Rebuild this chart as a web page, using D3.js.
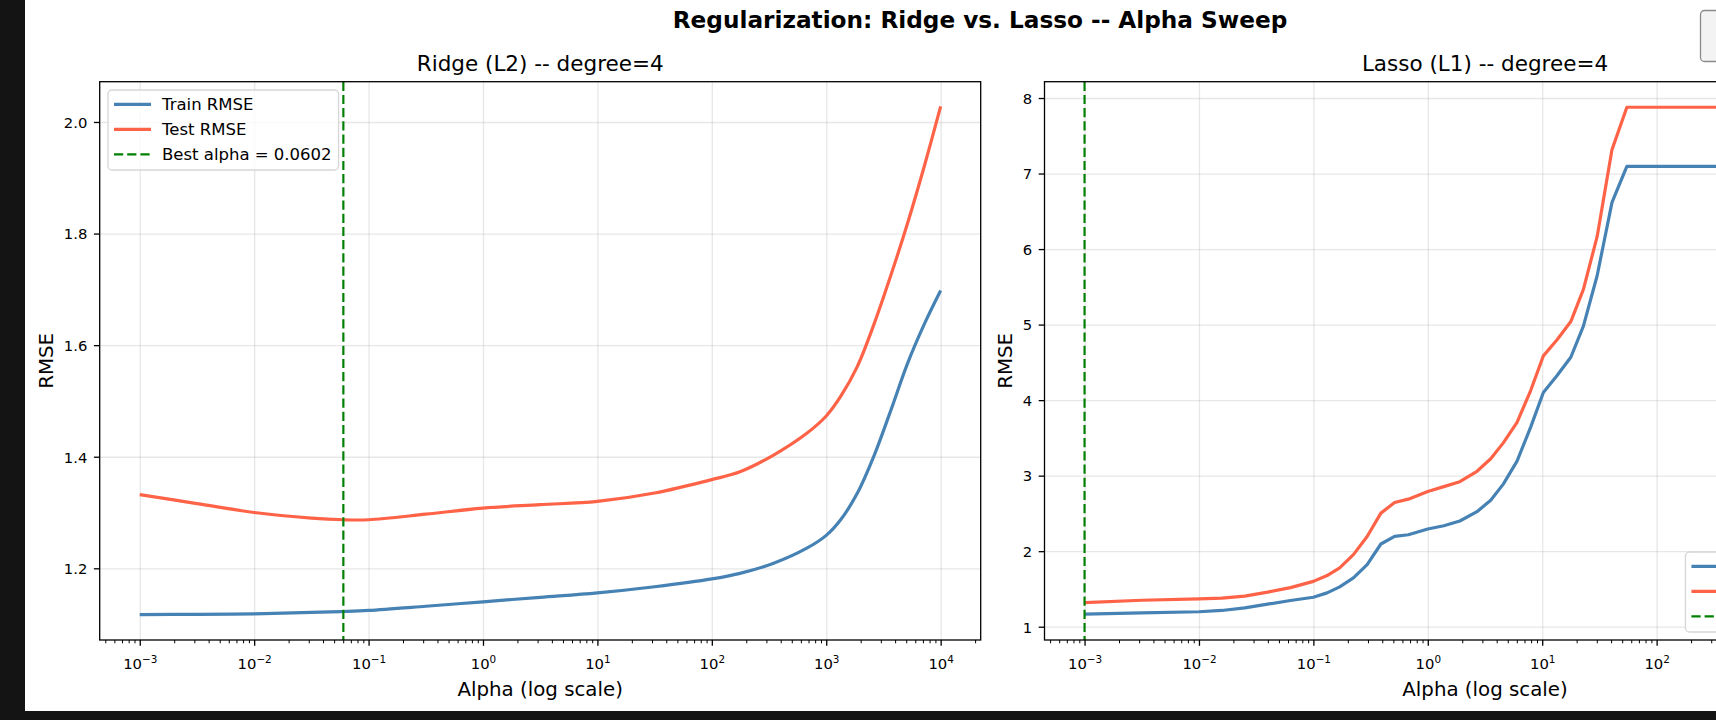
<!DOCTYPE html>
<meta charset='utf-8'>
<style>
  body { margin:0; background:#141414; }
  svg { display:block; font-family:'DejaVu Sans', sans-serif; }
  .grid line { stroke:#b0b0b0; stroke-opacity:.3; stroke-width:1.3px; }
  .grid .domain { display:none; }
  .axis .domain { display:none; }
  .axis line { stroke:#000; stroke-width:1.3px; }
  .axis text { fill:#000; font-size:14.8px; font-family:'DejaVu Sans', sans-serif; }
  .minor line { stroke-width:1px; }
  .spine { fill:none; stroke:#000; stroke-width:1.3px; }
</style>
<body>
<script src='https://cdn.jsdelivr.net/npm/d3@7'></script>
<script>
  // values ----------------------------------------------------------------
  var ridgeLogAlpha = [-3, -2.5, -2, -1.5, -1.22, -1, -0.5, 0, 0.5, 1, 1.5, 2, 2.246, 2.54, 2.83, 3, 3.126, 3.27, 3.42, 3.566, 3.71, 3.86, 4];
  var ridgeTrain = [1.117, 1.1175, 1.1185, 1.121, 1.1226, 1.1245, 1.132, 1.140, 1.148, 1.156, 1.167, 1.181, 1.191, 1.209, 1.236, 1.259, 1.287, 1.334, 1.403, 1.484, 1.567, 1.639, 1.698];
  var ridgeTest = [1.332, 1.316, 1.300, 1.290, 1.287, 1.287, 1.297, 1.308, 1.314, 1.320, 1.335, 1.359, 1.373, 1.403, 1.442, 1.473, 1.508, 1.561, 1.639, 1.726, 1.818, 1.923, 2.028];

  var lassoLogAlpha = [-3, -2.5, -2, -1.8, -1.6, -1.4, -1.2, -1, -0.88, -0.77, -0.65, -0.53, -0.41, -0.29, -0.17, 0, 0.14, 0.28, 0.43, 0.55, 0.66, 0.78, 0.9, 1.01, 1.13, 1.25, 1.36, 1.48, 1.61, 1.74, 4];
  var lassoTrain = [1.166, 1.184, 1.198, 1.215, 1.25, 1.298, 1.347, 1.39, 1.448, 1.528, 1.646, 1.822, 2.095, 2.195, 2.218, 2.293, 2.336, 2.40, 2.523, 2.675, 2.888, 3.192, 3.646, 4.10, 4.325, 4.568, 4.98, 5.647, 6.618, 7.096, 7.096];
  var lassoTest = [1.32, 1.35, 1.369, 1.378, 1.405, 1.458, 1.518, 1.60, 1.677, 1.778, 1.954, 2.195, 2.504, 2.644, 2.689, 2.79, 2.855, 2.92, 3.058, 3.223, 3.434, 3.706, 4.13, 4.586, 4.80, 5.04, 5.466, 6.164, 7.317, 7.878, 7.878];

  var ridgeBestAlpha = 0.0602;
  var lassoBestAlpha = 0.001;

  var xTickExps = [-3, -2, -1, 0, 1, 2, 3, 4];
  var ridgeYTicks = [1.2, 1.4, 1.6, 1.8, 2.0];
  var lassoYTicks = [1, 2, 3, 4, 5, 6, 7, 8];
  var seriesNames = ['Train RMSE', 'Test RMSE'];
  var seriesColors = ['#4682b4', '#ff6347'];

  // layout -------------------------------------------------------------------
  var width = 1716;
  var height = 720;
  var axTop = 81.7, axBottom = 640, axWidth = 881;

  var svg = d3.select('body').append('svg')
    .attr('width', width)
    .attr('height', height);

  svg.append('rect')
    .attr('x', 25).attr('y', 0)
    .attr('width', width - 25).attr('height', 711)
    .attr('fill', '#fff');

  // button edge peeking in at the top right
  svg.append('rect')
    .attr('x', 1700.5).attr('y', 10.5)
    .attr('width', 40).attr('height', 51)
    .attr('rx', 4)
    .attr('fill', '#f3f3f3')
    .attr('stroke', '#8a8a8a')
    .attr('stroke-width', 1.3);

  svg.append('text')
    .attr('x', 980).attr('y', 28)
    .attr('text-anchor', 'middle')
    .style('font-size', '23.2px')
    .style('font-weight', 'bold')
    .text('Regularization: Ridge vs. Lasso -- Alpha Sweep');

  drawPanel({
    left: 99.7,
    title: 'Ridge (L2) -- degree=4',
    logAlpha: ridgeLogAlpha,
    series: [ridgeTrain, ridgeTest],
    yDomain: [1.0715, 2.0722],
    yTicks: ridgeYTicks,
    yFormat: d3.format('.1f'),
    best: ridgeBestAlpha,
    curve: d3.curveCatmullRom.alpha(0.5),
    legendCorner: 'upper left',
    labelX: 53
  });

  drawPanel({
    left: 1044.5,
    title: 'Lasso (L1) -- degree=4',
    logAlpha: lassoLogAlpha,
    series: [lassoTrain, lassoTest],
    yDomain: [0.824, 8.216],
    yTicks: lassoYTicks,
    yFormat: d3.format('d'),
    best: lassoBestAlpha,
    curve: d3.curveLinear,
    legendCorner: 'lower right',
    labelX: 1011.5
  });

  function drawPanel(p) {
    var right = p.left + axWidth;
    var x = d3.scaleLog()
      .domain([Math.pow(10, -3.35), Math.pow(10, 4.35)])
      .range([p.left, right]);
    var y = d3.scaleLinear()
      .domain(p.yDomain)
      .range([axBottom, axTop]);

    var g = svg.append('g');
    var clipId = 'clip' + Math.round(p.left);
    g.append('clipPath').attr('id', clipId)
      .append('rect')
      .attr('x', p.left).attr('y', axTop)
      .attr('width', axWidth).attr('height', axBottom - axTop);

    var majors = xTickExps.map(function(e) { return Math.pow(10, e); });
    var minors = [];
    for (var e = -4; e <= 4; e++) {
      for (var m = 2; m <= 9; m++) {
        var v = m * Math.pow(10, e);
        if (v > x.domain()[0] && v < x.domain()[1]) minors.push(v);
      }
    }

    // grid
    g.append('g').attr('class', 'grid')
      .attr('transform', 'translate(0,' + axBottom + ')')
      .call(d3.axisBottom(x).tickValues(majors).tickSize(-(axBottom - axTop)).tickFormat(''));
    g.append('g').attr('class', 'grid')
      .attr('transform', 'translate(' + p.left + ',0)')
      .call(d3.axisLeft(y).tickValues(p.yTicks).tickSize(-axWidth).tickFormat(''));

    // lines
    var line = d3.line()
      .x(function(d) { return x(Math.pow(10, d[0])); })
      .y(function(d) { return y(d[1]); })
      .curve(p.curve);
    var plot = g.append('g').attr('clip-path', 'url(#' + clipId + ')');
    p.series.forEach(function(vals, i) {
      plot.append('path')
        .datum(p.logAlpha.map(function(a, j) { return [a, vals[j]]; }))
        .attr('d', line)
        .attr('fill', 'none')
        .attr('stroke', seriesColors[i])
        .attr('stroke-width', 3.2)
        .attr('stroke-linejoin', 'round');
    });
    plot.append('line')
      .attr('x1', x(p.best)).attr('x2', x(p.best))
      .attr('y1', axTop).attr('y2', axBottom)
      .attr('stroke', 'green')
      .attr('stroke-width', 2.2)
      .attr('stroke-dasharray', '9.2,4');

    // axes
    var xAxis = g.append('g').attr('class', 'axis')
      .attr('transform', 'translate(0,' + axBottom + ')')
      .call(d3.axisBottom(x).tickValues(majors).tickSize(5.8).tickPadding(8).tickFormat(''));
    xAxis.selectAll('.tick').each(function(d) {
      var t = d3.select(this).append('text')
        .attr('y', 29.3)
        .attr('text-anchor', 'middle');
      var ex = Math.round(Math.log10(d));
      t.append('tspan').text('10');
      t.append('tspan')
        .attr('dy', -6.5)
        .style('font-size', '10.4px')
        .text(ex < 0 ? '\u2212' + (-ex) : String(ex));
    });
    g.append('g').attr('class', 'axis minor')
      .attr('transform', 'translate(0,' + axBottom + ')')
      .call(d3.axisBottom(x).tickValues(minors).tickSize(3.3).tickFormat(''));

    var yAxis = g.append('g').attr('class', 'axis')
      .attr('transform', 'translate(' + p.left + ',0)')
      .call(d3.axisLeft(y).tickValues(p.yTicks).tickSize(5.8).tickPadding(6.5).tickFormat(p.yFormat));
    yAxis.selectAll('.tick text').attr('dy', '0.36em');

    g.append('rect').attr('class', 'spine')
      .attr('x', p.left).attr('y', axTop)
      .attr('width', axWidth).attr('height', axBottom - axTop);

    // titles
    g.append('text')
      .attr('x', p.left + axWidth / 2).attr('y', 71)
      .attr('text-anchor', 'middle')
      .style('font-size', '21.5px')
      .text(p.title);
    g.append('text')
      .attr('x', p.left + axWidth / 2).attr('y', 695.5)
      .attr('text-anchor', 'middle')
      .style('font-size', '19.8px')
      .text('Alpha (log scale)');
    g.append('text')
      .attr('transform', 'translate(' + p.labelX + ',' + ((axTop + axBottom) / 2) + ') rotate(-90)')
      .attr('text-anchor', 'middle')
      .style('font-size', '19.8px')
      .text('RMSE');

    // legend
    var labels = seriesNames.concat(['Best alpha = ' + d3.format('.4f')(p.best)]);
    var leg = g.append('g');
    var box = leg.append('rect')
      .attr('rx', 4)
      .attr('fill', '#fff').attr('fill-opacity', 0.8)
      .attr('stroke', '#d6d6d6').attr('stroke-width', 1.3);
    var maxW = 0;
    labels.forEach(function(lab, i) {
      var cy = 14.3 + i * 25;
      leg.append('line')
        .attr('x1', 6).attr('x2', 43)
        .attr('y1', cy).attr('y2', cy)
        .attr('stroke', i < 2 ? seriesColors[i] : 'green')
        .attr('stroke-width', i < 2 ? 3.2 : 2.2)
        .attr('stroke-dasharray', i < 2 ? null : '9.2,4');
      var t = leg.append('text')
        .attr('x', 54).attr('y', cy + 6)
        .style('font-size', '16.5px')
        .text(lab);
      maxW = Math.max(maxW, t.node().getComputedTextLength());
    });
    var legW = 54 + maxW + 7, legH = 80;
    box.attr('width', legW).attr('height', legH);
    var lx, ly;
    if (p.legendCorner === 'upper left') {
      lx = p.left + 8.3; ly = axTop + 8.3;
    } else {
      lx = right - 9.5 - legW; ly = axBottom - 8 - legH;
    }
    leg.attr('transform', 'translate(' + lx + ',' + ly + ')');
  }
</script>
</body>
